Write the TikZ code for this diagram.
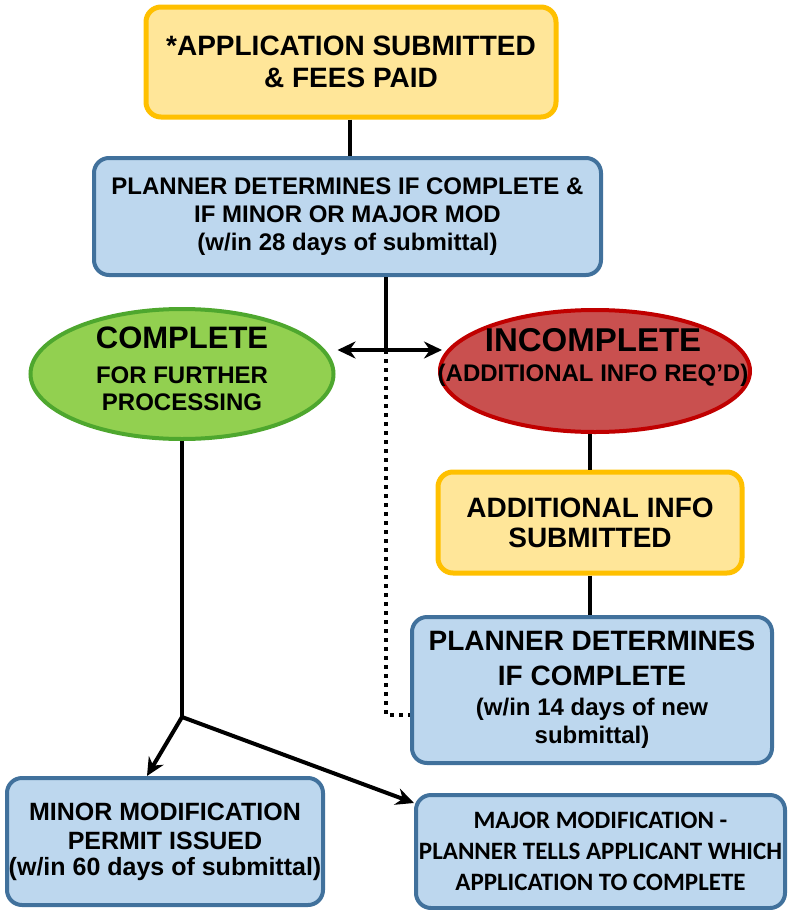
\documentclass[tikz,border=0pt]{standalone}
\usepackage{fontspec}
\setmainfont{Liberation Sans}
\newfontfamily\calibrifont{Carlito}
\usetikzlibrary{shapes.geometric, arrows.meta}

\definecolor{boxyellow}{HTML}{FFE699}
\definecolor{edgeyellow}{HTML}{FFC000}
\definecolor{boxblue}{HTML}{BDD7EE}
\definecolor{edgeblue}{HTML}{41719C}
\definecolor{okgreen}{HTML}{92D050}
\definecolor{edgegreen}{HTML}{4EA72E}
\definecolor{badred}{HTML}{C9504F}
\definecolor{edgered}{HTML}{C00000}

\newcommand{\fs}[2]{\fontsize{#1}{#2}\selectfont}

\begin{document}
\begin{tikzpicture}[
    x=1pt, y=-1pt,
    box/.style={draw, align=center, rounded corners=15pt, line width=4pt, inner sep=0pt},
    yellowbox/.style={box, fill=boxyellow, draw=edgeyellow, line width=5pt},
    bluebox/.style={box, fill=boxblue, draw=edgeblue},
    oval/.style={ellipse, draw, line width=4pt, inner sep=0pt},
    ovaltext/.style={align=center, inner sep=0pt},
    link/.style={line width=4pt},
    arrow/.style={link, ->, >={Stealth[length=18pt, width=17pt]}},
    dotlink/.style={link, dash pattern=on 4pt off 5pt}
  ]
  \useasboundingbox (0,0) rectangle (791,910);

  % Submission and first check
  \node[yellowbox, minimum width=410, minimum height=110, font=\bfseries\fs{28}{32}] (submitted) at (351,62)
    {*APPLICATION SUBMITTED\\ \& FEES PAID};
  \node[bluebox, minimum width=507, minimum height=117, font=\bfseries\fs{24}{28}] (review) at (347.5,216.5)
    {PLANNER DETERMINES IF COMPLETE \&\\ IF MINOR OR MAJOR MOD\\ (w/in 28 days of submittal)};

  % Outcomes
  \node[oval, fill=okgreen, draw=edgegreen, minimum width=303, minimum height=130] (complete) at (182,374) {};
  \node[ovaltext, font=\bfseries\fs{24}{27}] (completetext) at (182,369)
    {\fs{31}{35}COMPLETE\\[8pt] \fs{24}{27}FOR FURTHER\\ PROCESSING};
  \node[oval, fill=badred, draw=edgered, minimum width=310, minimum height=122] (incomplete) at (595,371) {};
  \node[ovaltext, font=\bfseries\fs{24}{30}] (incompletetext) at (593,357)
    {\fs{33}{30}INCOMPLETE\\ \fs{24}{30}(ADDITIONAL INFO REQ’D)};

  % Resubmission loop
  \node[yellowbox, minimum width=304, minimum height=101, font=\bfseries\fs{28}{30}] (resubmitted) at (590,522.5)
    {ADDITIONAL INFO\\ SUBMITTED};
  \node[bluebox, minimum width=360, minimum height=146, font=\bfseries\fs{28}{35}] (recheck) at (592,690)
    {PLANNER DETERMINES\\ IF COMPLETE\\[-5pt] \fs{24}{28}(w/in 14 days of new\\[-7pt] \fs{24}{28}submittal)};

  % Final permits
  \node[bluebox, minimum width=316, minimum height=127, font=\bfseries\fs{25}{29}] (minor) at (165,841.5)
    {MINOR MODIFICATION\\ PERMIT ISSUED\\[-3pt] (w/in 60 days of submittal)};
  \node[bluebox, minimum width=369, minimum height=113, font=\calibrifont\bfseries\fs{25}{31}] (major) at (600.5,851.5)
    {MAJOR MODIFICATION -\\ PLANNER TELLS APPLICANT WHICH\\ APPLICATION TO COMPLETE};

  % Connectors
  \coordinate (split) at (386,350);
  \coordinate (fork) at (182,717);
  \draw[link] (submitted.south -| 350,0) -- (review.north -| 350,0);
  \draw[link] (split |- review.south) -- (split);
  \draw[arrow] (split) -- ([xshift=2pt]split -| complete.east);
  \draw[arrow] (split) -- ([xshift=4pt]split -| incomplete.west);
  \draw[dotlink] (split) |- ([yshift=-25pt]recheck.west);
  \draw[link] (incomplete.south -| resubmitted.north) -- (resubmitted.north);
  \draw[link] (resubmitted.south) -- (resubmitted.south |- recheck.north);
  \draw[link] (complete.south) -- (fork);
  \draw[arrow] (fork) -- ([xshift=-18pt]minor.north);
  \draw[arrow] (fork) -- ([yshift=-10pt]major.north west);

\end{tikzpicture}
\end{document}
